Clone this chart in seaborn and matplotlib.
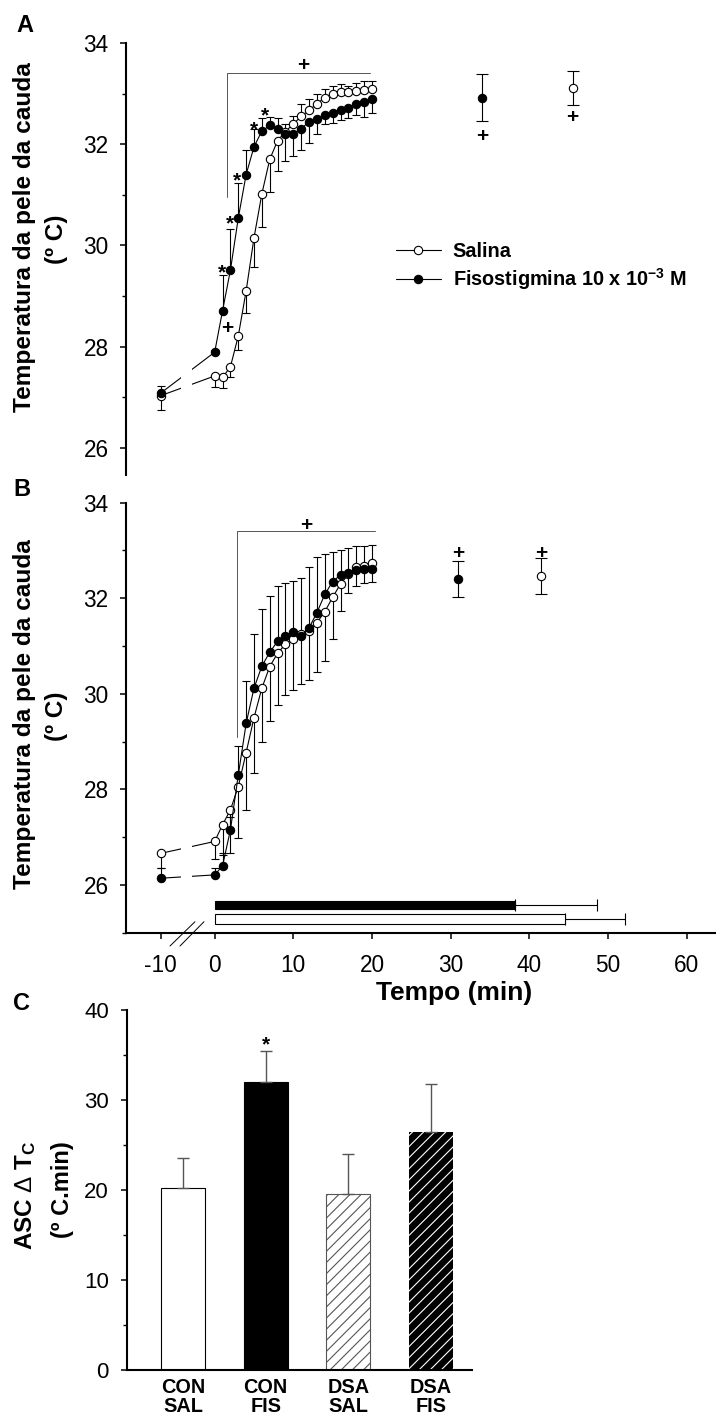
import numpy as np
import pandas as pd
import matplotlib
matplotlib.use("Agg")
import matplotlib.pyplot as plt
import seaborn as sns
from matplotlib.lines import Line2D
from matplotlib.ticker import FixedLocator, MultipleLocator, NullLocator

# ---------------- data ----------------
tempo = [-10, 0, 1, 2, 3, 4, 5, 6, 7, 8, 9, 10, 11, 12, 13, 14, 15, 16, 17, 18, 19, 20]

# Panel A
a_salina = [27.03, 27.42, 27.39, 27.60, 28.21, 29.10, 30.15, 31.02, 31.70, 32.07, 32.25,
            32.40, 32.55, 32.67, 32.80, 32.92, 33.00, 33.03, 33.03, 33.05, 33.07, 33.10]
a_salina_ep = [0.29, 0.21, 0.21, 0.21, 0.28, 0.43, 0.57, 0.66, 0.65, 0.60, 0.15,
               0.15, 0.24, 0.22, 0.20, 0.18, 0.15, 0.15, 0.12, 0.15, 0.17, 0.15]
a_fiso = [27.08, 27.89, 28.71, 29.51, 30.54, 31.40, 31.95, 32.26, 32.37, 32.31, 32.21,
          32.20, 32.31, 32.44, 32.50, 32.57, 32.62, 32.67, 32.72, 32.80, 32.84, 32.89]
a_fiso_ep = [0.15, 0.05, 0.70, 0.82, 0.70, 0.49, 0.36, 0.25, 0.17, 0.20, 0.54,
             0.43, 0.42, 0.41, 0.30, 0.18, 0.20, 0.20, 0.20, 0.22, 0.30, 0.27]

# Panel B
b_salina = [26.66, 26.91, 27.26, 27.57, 28.06, 28.77, 29.50, 30.12, 30.57, 30.85, 31.04,
            31.15, 31.25, 31.32, 31.49, 31.72, 32.02, 32.30, 32.50, 32.65, 32.68, 32.73]
b_salina_ep = [0.31, 0.36, 0.63, 0.91, 1.08, 1.20, 1.16, 1.12, 1.14, 1.08, 1.06,
               1.07, 1.04, 1.04, 1.04, 1.03, 0.87, 0.57, 0.39, 0.40, 0.36, 0.40]
b_fiso = [26.14, 26.21, 26.40, 27.15, 28.30, 29.38, 30.12, 30.58, 30.87, 31.10, 31.20,
          31.30, 31.20, 31.38, 31.70, 32.08, 32.35, 32.49, 32.52, 32.60, 32.62, 32.62]
b_fiso_ep = [0.21, 0.14, 0.26, 0.28, 0.61, 0.88, 1.14, 1.19, 1.18, 1.15, 1.11,
             1.07, 1.22, 1.27, 1.16, 0.85, 0.62, 0.52, 0.53, 0.49, 0.47, 0.49]

# isolated final points  [fisostigmina, salina]
a_final_tempo = [34.0, 45.5]
a_final_temp = [32.92, 33.11]
a_final_ep = [0.47, 0.33]
b_final_tempo = [31.0, 41.5]
b_final_temp = [32.40, 32.47]
b_final_ep = [0.38, 0.38]

# latency bars in panel B  [fisostigmina, salina]
latencia = [38.2, 44.5]
latencia_ep = [10.4, 7.7]

# Panel C
grupos = ["CON\nSAL", "CON\nFIS", "DSA\nSAL", "DSA\nFIS"]
asc = [20.2, 32.0, 19.6, 26.4]
asc_ep = [3.4, 3.4, 4.45, 5.4]

x_ticks = [-10, 0, 10, 20, 30, 40, 50, 60]
legend_labels = ["Salina", r"Fisostigmina 10 x 10$^{\mathbf{-3}}$ M"]

# ---------------- style ----------------
sns.set_style("ticks")
plt.rcParams["font.family"] = ["Liberation Sans", "DejaVu Sans"]
plt.rcParams["mathtext.fontset"] = "custom"
plt.rcParams["mathtext.rm"] = "Liberation Sans"
plt.rcParams["mathtext.bf"] = "Liberation Sans:bold"
plt.rcParams["mathtext.it"] = "Liberation Sans:italic"
plt.rcParams["hatch.linewidth"] = 0.8
plt.rcParams["axes.unicode_minus"] = False
for k in ["text.color", "axes.labelcolor", "xtick.color", "ytick.color", "axes.edgecolor"]:
    plt.rcParams[k] = "black"

W, H = 716, 1421
fig = plt.figure(figsize=(W / 100, H / 100), dpi=100)


def fx(px):
    return px / W


def fy(py):
    return 1 - py / H


BRK = 0.687


def fwd(x):
    x = np.asarray(x, float)
    return np.where(x < 0, x * BRK, x)


def inv(x):
    x = np.asarray(x, float)
    return np.where(x < 0, x / BRK, x)


axA = fig.add_axes([fx(126.5), fy(475), 1 - fx(126.5), (475 - 43) / H])
axB = fig.add_axes([fx(126.5), fy(932.7), 1 - fx(126.5), (932.7 - 502.7) / H])
axC = fig.add_axes([fx(126.7), fy(1370), (472 - 126.7) / W, 360 / H])
for ax in (axA, axB, axC):
    ax.patch.set_visible(False)

mk = dict(marker="o", markersize=6.0, markeredgecolor="black", markeredgewidth=0.8)


def draw_series(ax, sal, sal_ep, fis, fis_ep, away):
    t = np.array(tempo, float)
    sal = np.array(sal)
    fis = np.array(fis)
    sal_ep = np.array(sal_ep)
    fis_ep = np.array(fis_ep)
    if away:
        fis_up = fis >= sal
    else:
        fis_up = np.ones(len(t), bool)
    sal_up = ~fis_up
    z = np.zeros(len(t))
    ax.errorbar(t, sal, yerr=[np.where(sal_up, z, sal_ep), np.where(sal_up, sal_ep, z)],
                fmt="none", ecolor="black", elinewidth=0.8, capsize=3.0, capthick=0.8, zorder=1.5)
    ax.errorbar(t, fis, yerr=[np.where(fis_up, z, fis_ep), np.where(fis_up, fis_ep, z)],
                fmt="none", ecolor="black", elinewidth=0.8, capsize=3.0, capthick=0.8, zorder=1.5)
    sns.lineplot(x=t, y=sal, ax=ax, color="black", lw=0.8, markerfacecolor="white",
                 errorbar=None, sort=False, zorder=2, **mk)
    sns.lineplot(x=t, y=fis, ax=ax, color="black", lw=0.8, markerfacecolor="black",
                 errorbar=None, sort=False, zorder=2.1, **mk)
    # break of the lines at the axis break
    ax.axvspan(-6.26, -4.22, color="white", lw=0, zorder=2.2)


def draw_final(ax, tt, vv, ee):
    ax.errorbar([tt[1]], [vv[1]], yerr=[[ee[1]], [ee[1]]], fmt="none", ecolor="black",
                elinewidth=0.8, capsize=4.3, capthick=0.8, zorder=1.5)
    ax.errorbar([tt[0]], [vv[0]], yerr=[[ee[0]], [ee[0]]], fmt="none", ecolor="black",
                elinewidth=0.8, capsize=4.3, capthick=0.8, zorder=1.5)
    ax.plot([tt[1]], [vv[1]], linestyle="none", markerfacecolor="white", zorder=2, **mk)
    ax.plot([tt[0]], [vv[0]], linestyle="none", markerfacecolor="black", zorder=2, **mk)


def style_time_axis(ax, ymin):
    ax.set_xscale("function", functions=(fwd, inv))
    ax.set_xlim(-16.32, 63.74)
    ax.set_ylim(ymin, 34)
    ax.xaxis.set_major_locator(FixedLocator(x_ticks))
    ax.xaxis.set_minor_locator(NullLocator())
    ax.yaxis.set_major_locator(MultipleLocator(2))
    ax.yaxis.set_minor_locator(MultipleLocator(1))
    for s in ["top", "right"]:
        ax.spines[s].set_visible(False)
    for s in ["left", "bottom"]:
        ax.spines[s].set_linewidth(1.5)
    ax.tick_params(axis="both", which="major", direction="out", length=4.4, width=1.1,
                   labelsize=16.3, pad=8.5, color="black")
    ax.tick_params(axis="y", which="minor", direction="out", length=2.6, width=1.0)
    ax.set_xlabel("")
    ax.set_ylabel("")


sym = dict(ha="center", va="center", fontsize=15, fontweight="bold")

# ---------------- Panel A ----------------
draw_series(axA, a_salina, a_salina_ep, a_fiso, a_fiso_ep, away=True)
draw_final(axA, a_final_tempo, a_final_temp, a_final_ep)
style_time_axis(axA, 34 - (475 - 43) / 50.6)
axA.spines["bottom"].set_visible(False)
axA.tick_params(axis="x", which="both", bottom=False, labelbottom=False)

br = "#555555"
axA.plot([1.56, 1.56, 19.7], [30.96, 33.41, 33.41], color=br, lw=0.7, zorder=1)
axA.text(11.2, 33.56, "+", **sym)
axA.text(1.6, 28.35, "+", **sym)
axA.text(a_final_tempo[0], 32.15, "+", **sym)
axA.text(a_final_tempo[1], 32.52, "+", **sym)
for sx, sy in [(0.98, 29.58), (1.91, 30.54), (2.8, 31.39), (4.96, 32.40), (6.45, 32.68)]:
    axA.text(sx, sy - 0.12, "*", **sym)

handles = [Line2D([], [], color="black", lw=0.8, markerfacecolor="white", **mk),
           Line2D([], [], color="black", lw=0.8, markerfacecolor="black", **mk)]
leg = fig.legend(handles, legend_labels, loc="center left",
                 bbox_to_anchor=(fx(396), fy(267)), bbox_transform=fig.transFigure,
                 frameon=False, borderpad=0, borderaxespad=0, handlelength=2.25,
                 handletextpad=0.6, labelspacing=0.3,
                 prop={"size": 14.3, "weight": "bold"})

# ---------------- Panel B ----------------
draw_series(axB, b_salina, b_salina_ep, b_fiso, b_fiso_ep, away=False)
draw_final(axB, b_final_tempo, b_final_temp, b_final_ep)
style_time_axis(axB, 25)
axB.plot([2.84, 2.84, 20.35], [29.1, 33.41, 33.41], color=br, lw=0.7, zorder=1)
axB.text(11.7, 33.53, "+", **sym)
for tt in b_final_tempo:
    axB.text(tt, 32.93, "+", **sym)

bar_y = [25.58, 25.29]
axB.barh([bar_y[0]], [latencia[0]], left=0, height=0.18, color="black", edgecolor="black",
         linewidth=0.8, zorder=2)
axB.barh([bar_y[1]], [latencia[1]], left=0, height=0.2, color="white", edgecolor="black",
         linewidth=0.8, zorder=2)
for i in range(2):
    axB.errorbar([latencia[i]], [bar_y[i]], xerr=[[0], [latencia_ep[i]]], fmt="none",
                 ecolor="black", elinewidth=0.8, capsize=4.2, capthick=0.8, zorder=1.8)
axB.set_xlabel("Tempo (min)", fontsize=19, fontweight="bold")
axB.xaxis.set_label_coords((454.5 - 126.5) / (716 - 126.5), -(981 - 932.7) / 430)
axB.tick_params(axis="x", pad=11)

# break marks on x axis
for (x0, y0, x1, y1) in [(170, 946, 195, 921.7), (180, 946, 204, 921.7)]:
    fig.add_artist(Line2D([fx(x0), fx(x1)], [fy(y0), fy(y1)], color="black", lw=0.7,
                          transform=fig.transFigure))

# ---------------- Panel C ----------------
dfc = pd.DataFrame({"grupo": grupos, "asc": asc})
sns.barplot(data=dfc, x="grupo", y="asc", hue="grupo", legend=False, ax=axC, width=0.532,
            palette=["white", "black", "white", "black"], saturation=1)
styles = [dict(fc="white", ec="black", lw=0.8, hatch=None),
          dict(fc="black", ec="black", lw=0.8, hatch=None),
          dict(fc="white", ec="#555555", lw=0.8, hatch="///"),
          dict(fc="black", ec="white", lw=0.0, hatch="///")]
for p, st in zip(axC.patches, styles):
    p.set_facecolor(st["fc"])
    p.set_edgecolor(st["ec"])
    p.set_linewidth(st["lw"])
    if st["hatch"]:
        p.set_hatch(st["hatch"])
pos = np.arange(len(grupos))
axC.errorbar(pos, asc, yerr=[np.zeros(len(asc)), asc_ep], fmt="none", ecolor="#555555",
             elinewidth=1.0, capsize=4.3, capthick=1.0, zorder=1)
axC.text(1, 36.1, "*", **sym)
axC.set_xlim(-0.681, 3.496)
axC.set_ylim(0, 40)
axC.yaxis.set_major_locator(MultipleLocator(10))
axC.yaxis.set_minor_locator(MultipleLocator(5))
for s in ["top", "right"]:
    axC.spines[s].set_visible(False)
for s in ["left", "bottom"]:
    axC.spines[s].set_linewidth(1.5)
axC.tick_params(axis="y", which="major", direction="out", length=4.4, width=1.1,
                labelsize=16.0, pad=8.5)
axC.tick_params(axis="y", which="minor", direction="out", length=2.6, width=1.0)
axC.tick_params(axis="x", length=0, pad=6, labelsize=14.3)
for lab in axC.get_xticklabels():
    lab.set_fontweight("bold")
    lab.set_linespacing(0.95)
axC.set_xlabel("")
axC.set_ylabel("")

# ---------------- labels ----------------
lab_kw = dict(rotation=90, ha="center", va="center", fontweight="bold")
fig.text(fx(25), fy(237), "Temperatura da pele da cauda", fontsize=17.6, **lab_kw)
fig.text(fx(57), fy(239), "(º C)", fontsize=17.6, **lab_kw)
fig.text(fx(25), fy(714), "Temperatura da pele da cauda", fontsize=17.6, **lab_kw)
fig.text(fx(57), fy(716), "(º C)", fontsize=17.6, **lab_kw)
fig.text(fx(26), fy(1195), r"ASC $\Delta$ T$_{\mathbf{C}}$", fontsize=17.5, **lab_kw)
fig.text(fx(63), fy(1190), "(º C.min)", fontsize=17, **lab_kw)

for letter, x, y in [("A", 25, 26), ("B", 22, 490), ("C", 21, 1003)]:
    fig.text(fx(x), fy(y), letter, fontsize=17, fontweight="bold", ha="center", va="center")

fig.savefig("out.png", dpi=100)
